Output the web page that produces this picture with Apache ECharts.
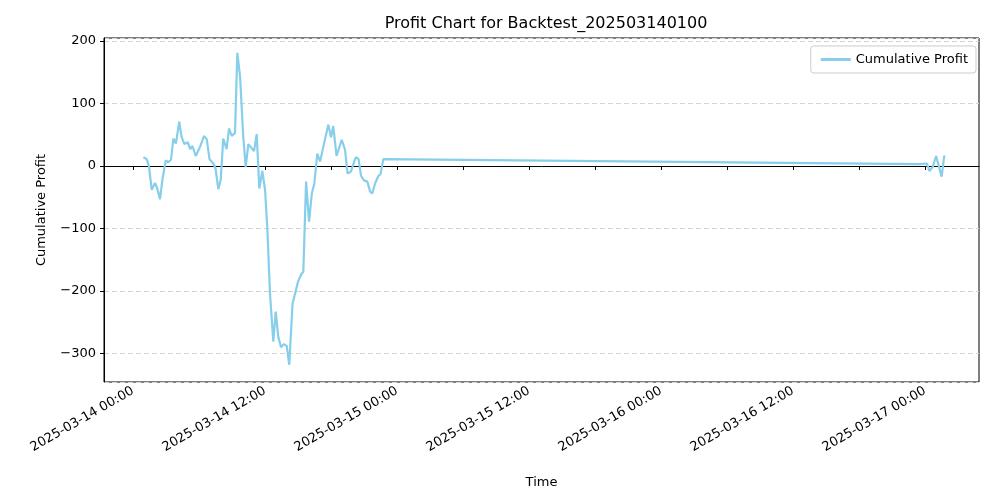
<!DOCTYPE html>
<html><head><meta charset="utf-8">
<script src="https://cdn.jsdelivr.net/npm/echarts@6/dist/echarts.min.js"></script>
<style>html,body{margin:0;padding:0;background:#fff}#c{width:1000px;height:500px}</style>
</head><body><div id="c"></div>
<script>
// hours after 2025-03-14 00:00
var hours = [0.94,1.24,1.45,1.7,2.0,2.2,2.45,2.67,2.97,3.2,3.45,3.67,3.9,4.2,4.4,4.67,4.97,5.2,5.4,5.7,6.1,6.45,6.7,6.95,7.3,7.5,7.75,7.97,8.2,8.5,8.73,8.97,9.27,9.48,9.73,10.0,10.24,10.48,10.8,11.0,11.24,11.48,11.75,12.0,12.2,12.45,12.75,12.97,13.2,13.45,13.7,13.97,14.2,14.5,14.73,15.0,15.27,15.48,15.73,16.0,16.25,16.48,16.75,17.0,17.3,17.75,18.0,18.2,18.5,18.97,19.27,19.5,19.8,20.25,20.5,20.73,21.0,21.3,21.55,21.75,22.0,22.3,22.5,22.75,71.5,72.15,72.4,72.7,73.0,73.5,73.75];
var profit = [14,11,-1,-38,-27,-36,-53,-22,9,6,10,44,36,71,47,35,38,27,32,16,31,48,43,11,4,-4,-37,-22,44,27,60,48,53,181,143,52,-2,35,28,24,51,-36,-8,-38,-97,-204,-281,-233,-273,-290,-285,-288,-318,-220,-204,-185,-174,-169,-25,-89,-44,-28,20,7,31,66,46,64,16,42,26,-12,-9,14,11,-16,-23,-25,-41,-44,-28,-16,-13,11,3,4,-8,-1,16,-17,17];
var seriesName = 'Cumulative Profit';
var base = new Date(2025,2,14,0,0,0).getTime();
var H = 3600*1000;
var data = hours.map(function(h,i){return [base+h*H, profit[i]];});
function pad(n){return (n<10?'0':'')+n;}
var chart = echarts.init(document.getElementById('c'));
chart.setOption({
  animation:false,
  title:{text:'Profit Chart for Backtest_202503140100',left:541,textAlign:'center',top:11,textStyle:{fontFamily:'DejaVu Sans',fontSize:16,fontWeight:'normal',color:'#000'}},
  legend:{right:24,top:46,data:[seriesName],icon:'path://M0,0 L30,0 L30,3 L0,3 Z',itemWidth:30,itemHeight:3,itemGap:8,
    borderColor:'#ccc',borderWidth:1,borderRadius:3,padding:[7,8,7,10],
    textStyle:{fontFamily:'DejaVu Sans',fontSize:13,color:'#000'}},
  grid:{left:104,right:21,top:38,bottom:118,show:true,borderColor:'#000',borderWidth:1,containLabel:false},
  xAxis:{type:'time',min:base-2.64*H,max:base+76.9*H,splitNumber:7,minInterval:12*H,maxInterval:12*H,
    name:'Time',nameLocation:'middle',nameGap:94,nameTextStyle:{fontFamily:'DejaVu Sans',fontSize:13,color:'#000'},
    axisLine:{lineStyle:{color:'#000'}},axisTick:{show:true,length:4,lineStyle:{color:'#000'}},
    splitLine:{show:false},
    axisLabel:{rotate:30,margin:8,color:'#000',fontFamily:'DejaVu Sans',fontSize:13,showMinLabel:false,showMaxLabel:false,
      formatter:function(v){var d=new Date(v);if(d.getMinutes()!==0||(d.getHours()%12)!==0)return '';
        return d.getFullYear()+'-'+pad(d.getMonth()+1)+'-'+pad(d.getDate())+' '+pad(d.getHours())+':00';}}},
  yAxis:{type:'value',min:-345.6,max:204.8,splitNumber:5,
    name:'Cumulative Profit',nameLocation:'middle',nameGap:56,nameTextStyle:{fontFamily:'DejaVu Sans',fontSize:13,color:'#000'},
    axisLine:{show:true,lineStyle:{color:'#000'}},axisTick:{show:true,length:4,lineStyle:{color:'#000'}},
    splitLine:{show:true,lineStyle:{type:[5,3],color:'#d3d3d3'}},
    axisLabel:{color:'#000',fontFamily:'DejaVu Sans',fontSize:13,margin:8,showMinLabel:false,showMaxLabel:false,
      formatter:function(v){return Math.abs(v%100)<1e-6?String(Math.round(v)).replace('-','\u2212'):'';}}},
  series:[{name:seriesName,type:'line',data:data,showSymbol:false,symbol:'none',
    lineStyle:{color:'#87CEEB',width:2.2},itemStyle:{color:'#87CEEB'}}]
});
</script></body></html>
